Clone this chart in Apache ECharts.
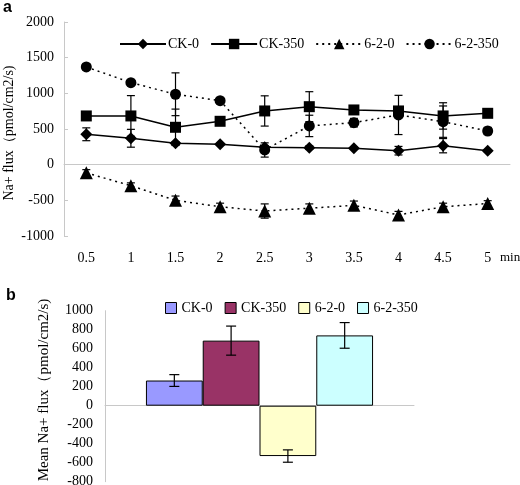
<!DOCTYPE html>
<html><head><meta charset="utf-8">
<script src="https://cdn.jsdelivr.net/npm/echarts@6/dist/echarts.min.js"></script>
<style>html,body{margin:0;padding:0;background:#fff}#c{width:520px;height:485px}</style>
</head><body><div id="c"></div>
<script>
// ---- Panel a data ----
const timeLabels = ['0.5','1','1.5','2','2.5','3','3.5','4','4.5','5'];
const ck0      = [426, 370, 300, 286, 245, 238, 230, 196, 266, 196];
const ck0Err   = [90, 125, 20, 15, 20, 25, 15, 60, 100, 15];
const ck350    = [683, 683, 524, 608, 753, 813, 767, 753, 683, 720];
const ck350Err = [30, 285, 255, 50, 212, 210, 30, 30, 185, 40];
const s620     = [-115, -295, -500, -590, -650, -610, -570, -705, -590, -545];
const s620Err  = [45, 40, 60, 50, 100, 60, 60, 50, 50, 40];
const s62350   = [1370, 1150, 987, 897, 206, 543, 589, 697, 603, 472];
const s62350Err= [40, 25, 300, 20, 100, 150, 60, 275, 220, 50];
const yTicksA = {min: -1000, max: 2000, interval: 500};
const yNameA = 'Na+ flux（pmol/cm2/s)';

// ---- Panel b data ----
const barNames  = ['CK-0', 'CK-350', '6-2-0', '6-2-350'];
const meanVals  = [265, 685, -530, 740];
const meanErr   = [62, 153, 65, 135];
const barColors = ['#9999FF', '#993366', '#FFFFCC', '#CCFFFF'];
const yTicksB = {min: -800, max: 1000, interval: 200};
const yNameB = 'Mean Na+ flux（pmol/cm2/s)';

const FONT = 'Liberation Serif';
const chart = echarts.init(document.getElementById('c'));

function errData(vals, errs) { return vals.map((v, i) => [i, v, errs[i]]); }
function errRender(params, api) {
  const x = api.value(0), y = api.value(1), e = api.value(2);
  const t = api.coord([x, y + e]), b = api.coord([x, y - e]);
  const cx = t[0], w = 4;
  const st = {stroke: '#000', lineWidth: 1.2};
  return {type: 'group', children: [
    {type: 'line', shape: {x1: cx, y1: t[1], x2: cx, y2: b[1]}, style: st},
    {type: 'line', shape: {x1: cx - w, y1: t[1], x2: cx + w, y2: t[1]}, style: st},
    {type: 'line', shape: {x1: cx - w, y1: b[1], x2: cx + w, y2: b[1]}, style: st}
  ]};
}
const catGap = 0.265;
function barErrRender(params, api) {
  const k = api.value(0), y = api.value(1), e = api.value(2);
  const c0 = api.coord([0, 0]);
  const band = api.size([1, 0])[0];
  const gw = band * (1 - catGap), bw = gw / 4;
  const cx = c0[0] - gw / 2 + bw * (k + 0.5);
  const t = api.coord([0, y + e])[1], b = api.coord([0, y - e])[1];
  const w = 5;
  const st = {stroke: '#000', lineWidth: 1.2};
  return {type: 'group', children: [
    {type: 'line', shape: {x1: cx, y1: t, x2: cx, y2: b}, style: st},
    {type: 'line', shape: {x1: cx - w, y1: t, x2: cx + w, y2: t}, style: st},
    {type: 'line', shape: {x1: cx - w, y1: b, x2: cx + w, y2: b}, style: st}
  ]};
}

const plain = v => String(v);
const axisLineStyle = {lineStyle: {color: '#c8c8c8', width: 1}};
const lineSeries = (name, data, symbol, type, size) => ({
  name, type: 'line', data, xAxisIndex: 0, yAxisIndex: 0,
  symbol, symbolSize: size, showSymbol: true,
  lineStyle: {color: '#000', width: 1.5, type},
  itemStyle: {color: '#000'}, z: 3, animation: false
});
const errSeries = (vals, errs) => ({
  type: 'custom', xAxisIndex: 0, yAxisIndex: 0, renderItem: errRender,
  data: errData(vals, errs), z: 2, silent: true, animation: false
});

const option = {
  animation: false,
  textStyle: {fontFamily: FONT},
  graphic: [
    {type: 'text', left: 3, top: 0, style: {text: 'a', font: 'bold 16px Liberation Sans', fill: '#000'}},
    {type: 'text', left: 6, top: 288, style: {text: 'b', font: 'bold 16px Liberation Sans', fill: '#000'}},
    {type: 'text', left: 500, top: 251, style: {text: 'min', font: '13px ' + FONT, fill: '#000'}},
    {type: 'text', x: 9, y: 133, rotation: Math.PI / 2,
     style: {text: yNameA, font: '14px ' + FONT, fill: '#000', align: 'center', verticalAlign: 'middle'}},
    {type: 'text', x: 44, y: 390, rotation: Math.PI / 2,
     style: {text: yNameB, font: '15px ' + FONT, fill: '#000', align: 'center', verticalAlign: 'middle'}}
  ],
  legend: [
    {data: ['CK-0', 'CK-350', '6-2-0', '6-2-350'], left: 114, top: 32,
     itemWidth: 46, itemHeight: 13, itemGap: 11,
     textStyle: {fontFamily: FONT, fontSize: 14, color: '#000', padding: [0, 0, 0, -3]}},
    {data: barNames.map(n => ({name: n + ' ', icon: 'rect'})), left: 160, top: 296,
     itemWidth: 11, itemHeight: 11, itemGap: 12,
     itemStyle: {borderColor: '#000', borderWidth: 1},
     textStyle: {fontFamily: FONT, fontSize: 14, color: '#000'},
     formatter: n => n.trim()}
  ],
  grid: [
    {left: 64, right: 10, top: 22, height: 214, outerBoundsMode: 'none', containLabel: false},
    {left: 105, right: 106, top: 310.7, height: 171, outerBoundsMode: 'none', containLabel: false}
  ],
  xAxis: [
    {type: 'category', gridIndex: 0, data: timeLabels, boundaryGap: true,
     axisLine: axisLineStyle, axisTick: {inside: true, length: 4, lineStyle: {color: '#c8c8c8'}},
     axisLabel: {color: '#000', fontSize: 14, fontFamily: FONT, margin: 15}},
    {type: 'category', gridIndex: 1, data: [''], axisLine: axisLineStyle,
     axisTick: {show: false}, axisLabel: {show: false}}
  ],
  yAxis: [
    {type: 'value', gridIndex: 0, min: yTicksA.min, max: yTicksA.max, interval: yTicksA.interval,
     axisLine: {show: true, lineStyle: {color: '#c8c8c8'}},
     axisTick: {show: true, inside: true, length: 4, lineStyle: {color: '#c8c8c8'}},
     splitLine: {show: false},
     axisLabel: {color: '#000', fontSize: 14, fontFamily: FONT, margin: 10, formatter: plain}},
    {type: 'value', gridIndex: 1, min: yTicksB.min, max: yTicksB.max, interval: yTicksB.interval,
     axisLine: {show: true, lineStyle: {color: '#c8c8c8'}},
     axisTick: {show: false},
     splitLine: {show: false},
     axisLabel: {color: '#000', fontSize: 14, fontFamily: FONT, margin: 12, formatter: plain}}
  ],
  series: [
    lineSeries('CK-0', ck0, 'diamond', 'solid', 12),
    lineSeries('CK-350', ck350, 'rect', 'solid', 11),
    lineSeries('6-2-0', s620, 'triangle', [2, 4], 13),
    lineSeries('6-2-350', s62350, 'circle', [2, 4], 11),
    errSeries(ck0, ck0Err), errSeries(ck350, ck350Err),
    errSeries(s620, s620Err), errSeries(s62350, s62350Err),
    ...barNames.map((n, i) => ({
      name: n + ' ', type: 'bar', xAxisIndex: 1, yAxisIndex: 1,
      data: [meanVals[i]], barGap: '0%', barCategoryGap: (catGap * 100) + '%',
      itemStyle: {color: barColors[i], borderColor: '#000', borderWidth: 1}, animation: false
    })),
    {type: 'custom', xAxisIndex: 1, yAxisIndex: 1, renderItem: barErrRender,
     data: meanVals.map((v, i) => [i, v, meanErr[i]]), z: 5, silent: true, animation: false}
  ]
};
chart.setOption(option);
</script></body></html>
